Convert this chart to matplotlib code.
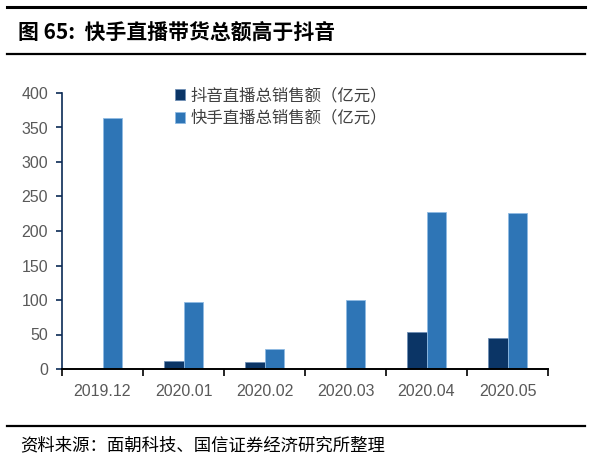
import matplotlib
matplotlib.use("Agg")
import matplotlib.pyplot as plt
from matplotlib.lines import Line2D
import numpy as np

plt.rcParams['font.family'] = ['Noto Sans CJK SC', 'DejaVu Sans']

categories = ["2019.12", "2020.01", "2020.02", "2020.03", "2020.04", "2020.05"]
douyin = [0, 11, 9.5, 0, 53, 44.5]
kuaishou = [364, 96.5, 28.5, 99.5, 227.5, 226.5]
yticks = [0, 50, 100, 150, 200, 250, 300, 350, 400]
series_names = ["抖音直播总销售额（亿元）", "快手直播总销售额（亿元）"]

W, H = 595, 461
fig = plt.figure(figsize=(W/100, H/100), dpi=100)
ax = fig.add_axes([62/W, 1-369/H, (548-62)/W, (369-93)/H])

x = np.arange(len(categories))
bw = 0.24
c1 = "#0b3566"
c2 = "#2e75b6"
ax.bar(x - bw/2, douyin, bw, color=c1, edgecolor="#6f8fb5", linewidth=0.6, label=series_names[0])
ax.bar(x + bw/2, kuaishou, bw, color=c2, edgecolor="#8fbbe3", linewidth=0.6, label=series_names[1])

ax.set_xlim(-0.5, len(categories) - 0.5)
ax.set_ylim(0, 400)
ax.set_yticks(yticks)
ax.set_yticklabels([str(v) for v in yticks], family=['Liberation Sans', 'DejaVu Sans'])
ax.set_xticks(x)
ax.set_xticklabels(categories, family=['Liberation Sans', 'DejaVu Sans'])
ax.set_xticks(np.arange(-0.5, len(categories), 1), minor=True)
ax.tick_params(axis='x', which='major', length=0, pad=11, labelsize=11.5, labelcolor="#595959")
ax.tick_params(axis='x', which='minor', length=5, width=1.2, direction='out', color="black")
ax.tick_params(axis='y', length=4, width=1.2, direction='out', color="#0b2a55", labelsize=11.5, labelcolor="#595959", pad=6)

for s in ['top', 'right']:
    ax.spines[s].set_visible(False)
ax.spines['left'].set_color("#0b2a55")
ax.spines['left'].set_linewidth(1.2)
ax.spines['bottom'].set_color("black")
ax.spines['bottom'].set_linewidth(1.4)

leg = ax.legend(loc='upper left', bbox_to_anchor=((168-62)/(548-62), 1.045), frameon=False,
                fontsize=11.8, handlelength=0.65, handleheight=0.65, handletextpad=0.3,
                labelspacing=0.35, borderaxespad=0)
for t in leg.get_texts():
    t.set_color("#404040")

# Header / footer lines
fig.add_artist(Line2D([7/W, 585/W], [1-7/H, 1-7/H], color="black", linewidth=2.2))
fig.add_artist(Line2D([7/W, 585/W], [1-54/H, 1-54/H], color="black", linewidth=1.6))
fig.add_artist(Line2D([7/W, 585/W], [1-426/H, 1-426/H], color="black", linewidth=1.6))

fig.text(18/W, 1-32/H, "图 65:  快手直播带货总额高于抖音", fontsize=15, fontweight='bold',
         va='center', ha='left', color="black")
fig.text(20/W, 1-445/H, "资料来源：面朝科技、国信证券经济研究所整理", fontsize=12.5,
         va='center', ha='left', color="black")

fig.savefig("out.png", dpi=100)
